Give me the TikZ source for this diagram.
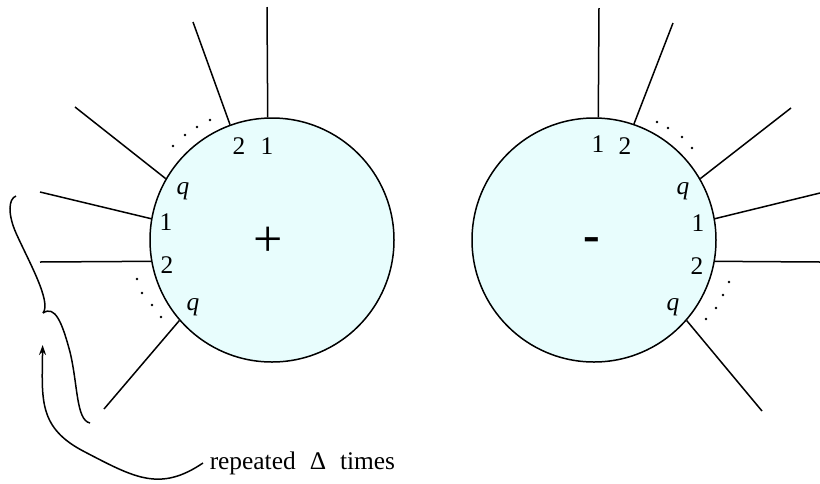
\documentclass[tikz,border=0pt]{standalone}
\usepackage{fontspec}
\setmainfont{Liberation Serif}
\usepackage{xcolor}
\usetikzlibrary{arrows.meta}
\definecolor{ballfill}{RGB}{232,253,253}

\begin{document}
\begin{tikzpicture}[x=0.5pt,y=-0.5pt,line width=0.75pt,
  every node/.style={font=\fontsize{12.7}{15}\selectfont,inner sep=0pt},
  ball/.style={circle,draw,fill=ballfill,minimum size=122pt,inner sep=0pt},
  sign/.style={font=\fontsize{26}{26}\selectfont}]
\useasboundingbox (0,0) rectangle (820,483);
% left vertex
\node[ball] (lc) at (272,240) {};
\node[sign] (lsign) at (268,242) {+};
\coordinate (la) at (267,7);
\coordinate (lb) at (193,22);
\coordinate (lcc) at (75,107);
\coordinate (ld) at (40,192);
\coordinate (le) at (40,262);
\coordinate (lf) at (104,409);
\draw (lc.92) -- (la);
\draw (lc.110) -- (lb);
\draw (lc.150) -- (lcc);
\draw (lc.170) -- (ld);
\draw (lc.190) -- (le);
\draw (lc.221) -- (lf);
\fill (210,120) circle (0.7pt) (197,127) circle (0.7pt) (185,135) circle (0.7pt) (173,146) circle (0.7pt);
\fill (137,279) circle (0.7pt) (142,293) circle (0.7pt) (152,305) circle (0.7pt) (161,317) circle (0.7pt);
\node (ltwoa) at (239,146) {2};
\node (lonea) at (267,146) {1};
\node (lqa) at (183,191) {\itshape q};
\node (loneb) at (166,222) {1};
\node (ltwob) at (167,265) {2};
\node (lqb) at (193,307) {\itshape q};
% right vertex
\node[ball] (rc) at (594,240) {};
\node[sign,font=\fontsize{25}{25}\selectfont\bfseries] (rsign) at (592,245) {-};
\coordinate (ra) at (599,8);
\coordinate (rb) at (673,23);
\coordinate (rcc) at (791,108);
\coordinate (rd) at (820,193);
\coordinate (re) at (820,262);
\coordinate (rf) at (762,411);
\draw (rc.88) -- (ra);
\draw (rc.71) -- (rb);
\draw (rc.30) -- (rcc);
\draw (rc.10) -- (rd);
\draw (rc.-10) -- (re);
\draw (rc.-41) -- (rf);
\fill (657,122) circle (0.7pt) (668,128) circle (0.7pt) (682,137) circle (0.7pt) (692,148) circle (0.7pt);
\fill (729,282) circle (0.7pt) (723,295) circle (0.7pt) (716,308) circle (0.7pt) (706,319) circle (0.7pt);
\node (ronea) at (598,144) {1};
\node (rtwoa) at (625,146) {2};
\node (rqa) at (683,191) {\itshape q};
\node (roneb) at (698,223) {1};
\node (rtwob) at (697,266) {2};
\node (rqb) at (673,307) {\itshape q};
% brace and note
\coordinate (brtip) at (43,313);
\draw (16,196) .. controls (8,199) and (8,215) .. (16,233) .. controls (28,260) and (52,302) .. (brtip);
\draw (brtip) .. controls (55,305) and (62,322) .. (70,352) .. controls (78,385) and (76,420) .. (90,423);
\node[anchor=west,inner sep=3pt] (rep) at (203,463) {repeated\hspace{0.55em}Δ\hspace{0.55em}times};
\draw[-{Stealth[length=5pt,width=3.5pt]},shorten >=16pt] (rep.west) .. controls (160,492) and (135,478) .. (85,452) .. controls (38,428) and (42,400) .. (brtip);
\end{tikzpicture}
\end{document}
